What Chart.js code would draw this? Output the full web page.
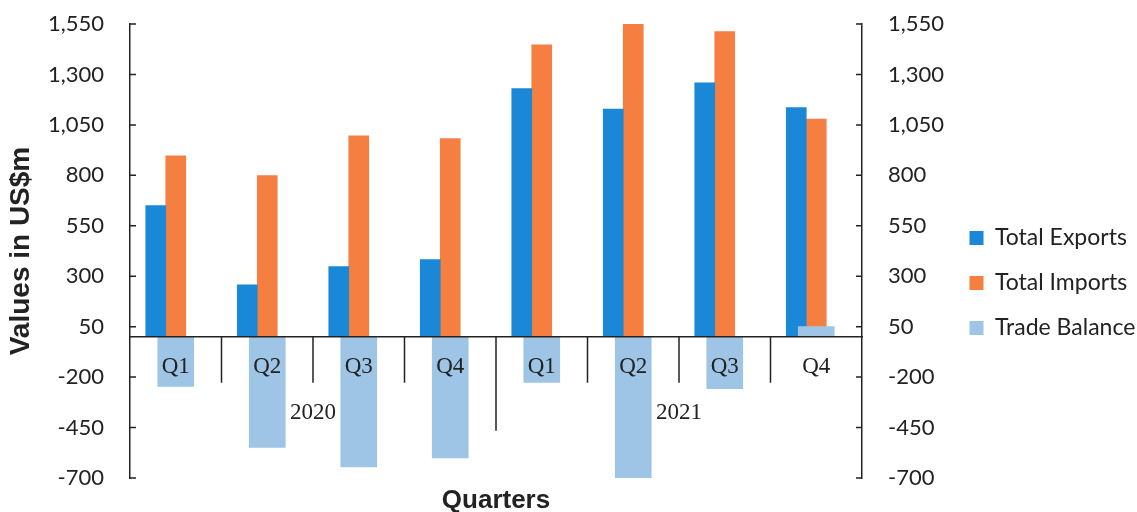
<!DOCTYPE html>
<html>
<head>
<meta charset="utf-8">
<script src="https://cdn.jsdelivr.net/npm/chart.js@4.4.1/dist/chart.umd.min.js"></script>
<style>
    html, body { margin: 0; padding: 0; background: #ffffff; }
    #wrap { width: 1137px; height: 512px; position: relative; }
</style>
</head>
<body>
<div id="wrap"><canvas id="tradeChart"></canvas></div>
<script>
// ============================================
// DATA
// ============================================

const quarters = ['Q1', 'Q2', 'Q3', 'Q4', 'Q1', 'Q2', 'Q3', 'Q4'];
const years = ['2020', '2021'];

const totalExports = [650, 257, 348, 382, 1230, 1128, 1258, 1136];
const totalImports = [897, 799, 996, 982, 1447, 1549, 1513, 1079];
const tradeBalance = [-246, -549, -645, -601, -226, -714, -257, 51];

const axisMin = -700;
const axisMax = 1550;
const axisStep = 250;

// ============================================
// PLUGIN - separateurs, annees, petites graduations
// ============================================

const quarterDividers = {
    id: 'quarterDividers',
    afterDatasetsDraw(chart) {
        const { ctx, chartArea, scales: { x, y } } = chart;
        const y0 = y.getPixelForValue(0);

        ctx.save();
        ctx.strokeStyle = '#222';
        ctx.lineWidth = 1.5;

        // separateurs entre trimestres (le plus long separe les annees)
        for (let i = 1; i < quarters.length; i++) {
            const px = (x.getPixelForValue(i - 1) + x.getPixelForValue(i)) / 2;
            const len = i % 4 === 0 ? 94 : 46;
            ctx.beginPath();
            ctx.moveTo(px, y0);
            ctx.lineTo(px, y0 + len);
            ctx.stroke();
        }

        // graduations interieures des deux axes
        y.ticks.forEach(t => {
            const py = y.getPixelForValue(t.value);
            ctx.beginPath();
            ctx.moveTo(chartArea.left, py);
            ctx.lineTo(chartArea.left + 6, py);
            ctx.moveTo(chartArea.right, py);
            ctx.lineTo(chartArea.right - 6, py);
            ctx.stroke();
        });

        // annees
        ctx.fillStyle = '#222';
        ctx.font = '23px "Liberation Serif"';
        ctx.textAlign = 'center';
        ctx.textBaseline = 'middle';
        years.forEach((yr, k) => {
            const cx = (x.getPixelForValue(k * 4) + x.getPixelForValue(k * 4 + 3)) / 2;
            ctx.fillText(yr, cx, y0 + 76);
        });
        ctx.restore();
    }
};

// ============================================
// CHART
// ============================================

const tickFont = { family: 'Lato', size: 22 };
const fmt = v => Number(v).toLocaleString('en-US');

// zone du graphique fixee comme l'original
const fitLeft = s => { s.width = 130; s.paddingTop = 0; s.paddingBottom = 0; };
const fitRight = s => { s.width = 1137 - 862 - s.chart.legend.width; s.paddingTop = 0; s.paddingBottom = 0; };

new Chart(document.getElementById('tradeChart'), {
    type: 'bar',
    data: {
        labels: quarters,
        datasets: [
            {
                label: 'Total Exports',
                data: totalExports,
                backgroundColor: '#1a88d6',
                borderWidth: 0,
                barThickness: 20,
                yAxisID: 'y'
            },
            {
                label: 'Total Imports',
                data: totalImports,
                backgroundColor: '#f57f40',
                borderWidth: 0,
                barThickness: 20,
                yAxisID: 'y'
            },
            {
                // empty slot, like the original layout
                label: '',
                data: [],
                backgroundColor: 'rgba(0,0,0,0)',
                barThickness: 20,
                yAxisID: 'y'
            },
            {
                label: 'Trade Balance',
                data: tradeBalance,
                backgroundColor: '#9fc5e6',
                borderWidth: 0,
                barThickness: 36,
                grouped: false,
                order: -1,
                yAxisID: 'y1'
            }
        ]
    },
    options: {
        responsive: true,
        maintainAspectRatio: false,
        animation: false,
        layout: { padding: { top: 24, left: 0, right: 0, bottom: 0 } },
        plugins: {
            tooltip: { enabled: false },
            legend: {
                position: 'right',
                align: 'center',
                title: { display: true, text: ' ', padding: 3, font: { size: 20 } },
                labels: {
                    boxWidth: 14,
                    boxHeight: 14,
                    padding: 22,
                    color: '#222',
                    font: { family: 'Lato', size: 23 },
                    filter: item => item.text !== '',
                    sort: (a, b) => a.datasetIndex - b.datasetIndex
                }
            },
            title: {
                display: true,
                position: 'bottom',
                fullSize: false,
                text: 'Quarters',
                color: '#222',
                padding: { top: 10, bottom: -2 },
                font: { family: 'Liberation Sans', size: 26, weight: 'bold', lineHeight: 1 }
            }
        },
        scales: {
            x: {
                position: { y: 0 },
                offset: true,
                grid: { display: false },
                border: { display: true, color: '#222', width: 1.5, z: 1 },
                ticks: {
                    z: 1,
                    color: '#222',
                    padding: 8,
                    maxRotation: 0,
                    autoSkip: false,
                    font: { family: 'Liberation Serif', size: 23 }
                }
            },
            y: {
                position: 'left',
                min: axisMin,
                max: axisMax,
                grid: { display: false },
                border: { display: true, color: '#222', width: 1.5 },
                ticks: {
                    stepSize: axisStep,
                    color: '#222',
                    padding: 18,
                    font: tickFont,
                    callback: fmt
                },
                title: {
                    display: true,
                    text: 'Values in US$m',
                    color: '#222',
                    padding: { top: 4, bottom: 0 },
                    font: { family: 'Liberation Sans', size: 28, weight: 'bold' }
                },
                afterFit: fitLeft
            },
            y1: {
                position: 'right',
                min: axisMin,
                max: axisMax,
                grid: { display: false },
                border: { display: true, color: '#222', width: 1.5 },
                ticks: {
                    stepSize: axisStep,
                    color: '#222',
                    padding: 18,
                    font: tickFont,
                    callback: fmt
                },
                afterFit: fitRight
            }
        }
    },
    plugins: [quarterDividers]
});
</script>
</body>
</html>
